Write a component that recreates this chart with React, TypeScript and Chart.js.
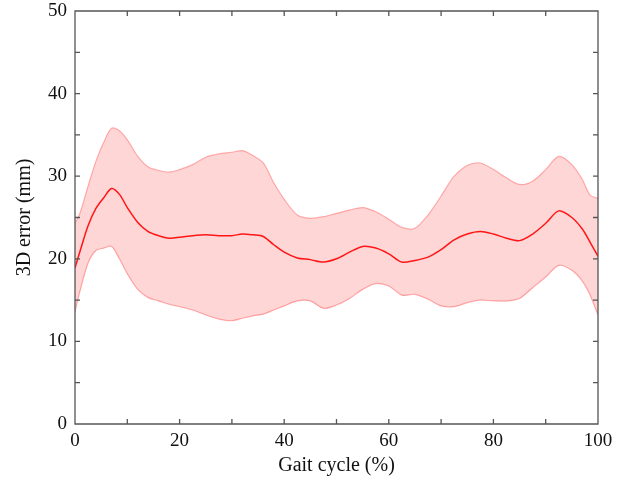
import React, { useEffect, useRef } from "react";
import { Chart, registerables } from "chart.js";

Chart.register(...registerables);

const gaitCycle = [0, 1, 2.5, 4, 5.5, 7, 8.5, 10, 12, 14, 16, 18, 20, 22.5, 25, 27.5, 30, 32, 34, 36, 38, 40, 42.5, 45, 47.5, 50, 52.5, 55, 57.5, 60, 62.5, 65, 67.5, 70, 72.5, 75, 77.5, 80, 82.5, 85, 87.5, 90, 92.5, 95, 97, 98.5, 100];

const meanError = [18.9, 21, 24, 26.1, 27.4, 28.5, 27.8, 26.2, 24.4, 23.3, 22.8, 22.5, 22.6, 22.8, 22.9, 22.8, 22.8, 23.0, 22.9, 22.7, 21.7, 20.8, 20.1, 19.9, 19.6, 20.0, 20.8, 21.5, 21.3, 20.6, 19.6, 19.8, 20.2, 21.1, 22.3, 23.0, 23.3, 23.0, 22.5, 22.2, 23.0, 24.3, 25.8, 25.0, 23.6, 22.0, 20.3];

const upperError = [24.3, 25.6, 28.8, 31.8, 34.1, 35.8, 35.5, 34.4, 32.4, 31.1, 30.7, 30.5, 30.8, 31.4, 32.3, 32.7, 32.9, 33.1, 32.5, 31.6, 29.2, 27.2, 25.3, 24.9, 25.1, 25.5, 25.9, 26.2, 25.7, 24.8, 23.8, 23.7, 25.3, 27.6, 30.0, 31.3, 31.6, 30.8, 29.8, 29.0, 29.4, 30.8, 32.4, 31.4, 29.6, 27.7, 27.3];

const lowerError = [13.6, 16.2, 19.5, 21.0, 21.3, 21.5, 20.0, 18.2, 16.3, 15.3, 14.9, 14.5, 14.2, 13.8, 13.2, 12.7, 12.5, 12.8, 13.1, 13.3, 13.8, 14.3, 14.9, 14.9, 14.0, 14.4, 15.2, 16.3, 17.0, 16.7, 15.6, 15.7, 15.1, 14.3, 14.2, 14.7, 15.0, 14.9, 14.9, 15.2, 16.5, 17.8, 19.2, 18.6, 17.3, 15.6, 13.2];

const xTicks = [0, 20, 40, 60, 80, 100];
const yTicks = [0, 10, 20, 30, 40, 50];

const FONT = "'Liberation Serif', 'Times New Roman', serif";

const framePlugin = {
  id: "frame",
  afterDraw(chart: any) {
    const { ctx, chartArea } = chart;
    const { left, right, top, bottom } = chartArea;
    const xs = chart.scales.x;
    const ys = chart.scales.y;
    ctx.save();
    ctx.strokeStyle = "#555";
    ctx.lineWidth = 1.3;
    ctx.beginPath();
    ctx.rect(left, top, right - left, bottom - top);
    ctx.stroke();
    ctx.beginPath();
    for (let v = 10; v < 100; v += 10) {
      const px = xs.getPixelForValue(v);
      ctx.moveTo(px, bottom);
      ctx.lineTo(px, bottom - 5);
      ctx.moveTo(px, top);
      ctx.lineTo(px, top + 5);
    }
    for (let v = 5; v < 50; v += 5) {
      const py = ys.getPixelForValue(v);
      ctx.moveTo(left, py);
      ctx.lineTo(left + 5, py);
      ctx.moveTo(right, py);
      ctx.lineTo(right - 5, py);
    }
    ctx.stroke();
    ctx.restore();
  },
};

export default function App() {
  const ref = useRef<HTMLCanvasElement>(null);
  useEffect(() => {
    document.body.style.margin = "0";
    const pts = (arr: number[]) => arr.map((y, i) => ({ x: gaitCycle[i], y }));
    const chart = new Chart(ref.current!, {
      type: "line",
      data: {
        datasets: [
          {
            data: pts(upperError),
            borderColor: "rgba(255,110,110,0.55)",
            borderWidth: 1.2,
            backgroundColor: "rgba(255,0,0,0.16)",
            fill: "+1",
            pointRadius: 0,
            tension: 0.3,
          },
          {
            data: pts(lowerError),
            borderColor: "rgba(255,110,110,0.55)",
            borderWidth: 1.2,
            fill: false,
            pointRadius: 0,
            tension: 0.3,
          },
          {
            data: pts(meanError),
            borderColor: "#ff1a1a",
            borderWidth: 1.5,
            fill: false,
            pointRadius: 0,
            tension: 0.3,
          },
        ],
      },
      options: {
        animation: false,
        responsive: false,
        layout: { padding: { top: 11, right: 19, left: 0, bottom: 0 } },
        plugins: { legend: { display: false }, tooltip: { enabled: false } },
        scales: {
          x: {
            type: "linear",
            min: 0,
            max: 100,
            grid: { display: false, drawTicks: false },
            border: { display: false },
            afterBuildTicks: (s: any) => {
              s.ticks = xTicks.map((v) => ({ value: v }));
            },
            afterFit: (s: any) => {
              s.height = 55;
              s.paddingLeft = 0;
              s.paddingRight = 0;
            },
            ticks: {
              color: "#111",
              padding: 6,
              maxRotation: 0,
              font: { family: FONT, size: 19 },
            },
            title: {
              display: true,
              text: "Gait cycle (%)",
              color: "#111",
              font: { family: FONT, size: 20 },
              padding: 1,
            },
          },
          y: {
            min: 0,
            max: 50,
            grid: { display: false, drawTicks: false },
            border: { display: false },
            afterBuildTicks: (s: any) => {
              s.ticks = yTicks.map((v) => ({ value: v }));
            },
            afterFit: (s: any) => {
              s.width = 75;
              s.paddingTop = 0;
              s.paddingBottom = 0;
            },
            ticks: {
              color: "#111",
              padding: 8,
              font: { family: FONT, size: 19 },
            },
            title: {
              display: true,
              text: "3D error (mm)",
              color: "#111",
              font: { family: FONT, size: 20 },
              padding: 13,
            },
          },
        },
      },
      plugins: [framePlugin],
    });
    return () => chart.destroy();
  }, []);
  return <canvas ref={ref} width={617} height={479} style={{ display: "block" }} />;
}
